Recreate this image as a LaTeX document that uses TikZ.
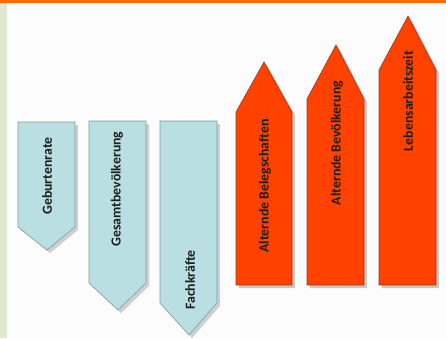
\documentclass[tikz,border=0pt]{standalone}
\usepackage{fontspec}
\setmainfont{Carlito}
\usetikzlibrary{shadows}
\definecolor{bgc}{HTML}{FCFCFC}
\definecolor{stripc}{HTML}{E1EACE}
\definecolor{barc}{HTML}{FF6A00}
\definecolor{redf}{HTML}{FF4200}
\definecolor{redd}{HTML}{9A3A1A}
\definecolor{bluef}{HTML}{B9DFE3}
\definecolor{blued}{HTML}{7F9CA3}
\definecolor{txtc}{HTML}{1E1E1E}
\tikzset{
  redarrow/.style={fill=redf, draw=redd, line width=0.6pt,
    drop shadow={shadow xshift=3pt, shadow yshift=-3pt, fill=black!35, opacity=0.6}},
  bluearrow/.style={fill=bluef, draw=blued, line width=0.6pt,
    drop shadow={shadow xshift=3pt, shadow yshift=-3pt, fill=black!30, opacity=0.6}},
  lbl/.style={rotate=90, font=\fontsize{13.8}{16}\selectfont\bfseries, text=txtc, inner sep=0pt}
}
\begin{document}
\begin{tikzpicture}[x=1pt,y=-1pt]
\useasboundingbox (0,0) rectangle (446,338);
\fill[bgc] (0,0) rectangle (446,338);
\fill[stripc] (0,0) rectangle (7,338);
\fill[barc] (0,0) rectangle (446,3);
% blue arrows (down)
\path[bluearrow] (18,122) -- (75,122) -- (75,227) -- (47,250) -- (18,227) -- cycle;
\path[bluearrow] (89,121) -- (146,121) -- (146,283) -- (118,310) -- (89,283) -- cycle;
\path[bluearrow] (160,121) -- (217,121) -- (217,303) -- (189,335) -- (160,303) -- cycle;
% red arrows (up)
\path[redarrow] (236,285) -- (292,285) -- (292,112) -- (264,62) -- (236,112) -- cycle;
\path[redarrow] (307,285) -- (364,285) -- (364,99) -- (336,45) -- (307,99) -- cycle;
\path[redarrow] (379,285) -- (436,285) -- (436,70) -- (408,16) -- (379,70) -- cycle;
% labels
\node[lbl] (geb) at (47,176) {Geburtenrate};
\node[lbl] (ges) at (117,189) {Gesamtbevölkerung};
\node[lbl] (fach) at (190,280) {Fachkräfte};
\node[lbl] (abel) at (265,186) {Alternde Belegschaften};
\node[lbl] (abev) at (337,143) {Alternde Bevölkerung};
\node[lbl] (leb) at (408,101) {Lebensarbeitszeit};
\end{tikzpicture}
\end{document}
